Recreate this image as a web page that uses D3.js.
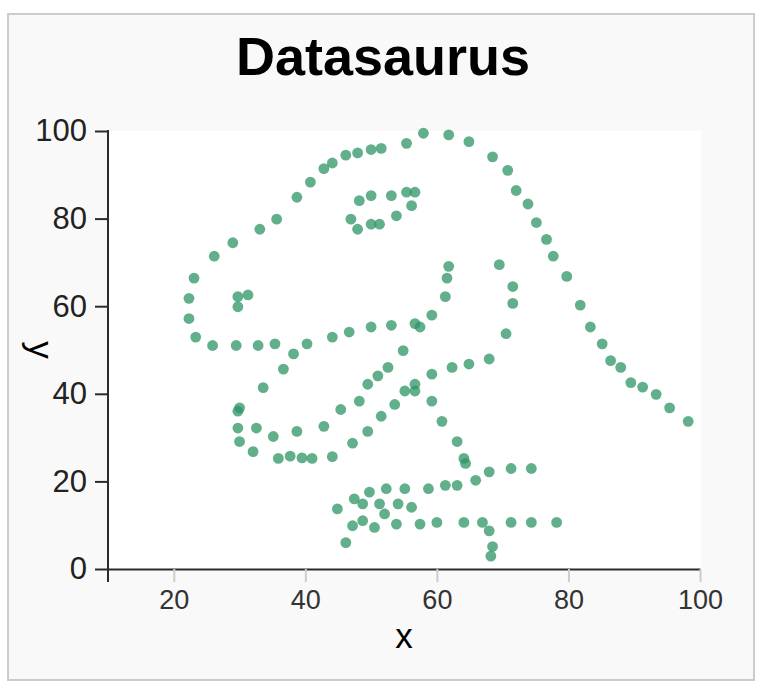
<!DOCTYPE html>
<html>
<head>
<meta charset="utf-8">
<script src="https://cdn.jsdelivr.net/npm/d3@7"></script>
<style>
  html, body { margin: 0; padding: 0; background: #ffffff; }
  svg { display: block; }
  text { font-family: "Liberation Sans", Arial, Helvetica, sans-serif; }
</style>
</head>
<body>
<svg id="chart" width="766" height="688"></svg>
<script>
const chartTitle = "Datasaurus";
const xLabel = "x";
const yLabel = "y";
const xTicks = [20, 40, 60, 80, 100];
const yTicks = [0, 20, 40, 60, 80, 100];

const xValues = [
  55.3846, 51.5385, 46.1538, 42.8205, 40.7692, 38.7179, 35.6410, 33.0769, 28.9744, 26.1538,
  23.0769, 22.3077, 22.3077, 23.3333, 25.8974, 29.4872, 32.8205, 35.3846, 40.2564, 44.1026,
  46.6667, 50.0000, 53.0769, 56.6667, 59.2308, 61.2821, 61.5385, 61.7949, 57.4359, 54.8718,
  52.5641, 48.2051, 49.4872, 51.0256, 45.3846, 42.8205, 38.7179, 35.1282, 32.5641, 30.0000,
  33.5897, 36.6667, 38.2051, 29.7436, 29.7436, 30.0000, 32.0513, 35.8974, 41.0256, 44.1026,
  47.1795, 49.4872, 51.5385, 53.5897, 55.1282, 56.6667, 59.2308, 62.3077, 64.8718, 67.9487,
  70.5128, 71.5385, 71.5385, 69.4872, 46.9231, 48.2051, 50.0000, 53.0769, 55.3846, 56.6667,
  56.1538, 53.8462, 51.2821, 50.0000, 47.9487, 29.7436, 29.7436, 31.2821, 57.9487, 61.7949,
  64.8718, 68.4615, 70.7692, 72.0513, 73.8462, 75.1282, 76.6667, 77.6923, 79.7436, 81.7949,
  83.3333, 85.1282, 86.4103, 87.9487, 89.4872, 93.3333, 95.3846, 98.2051, 56.6667, 59.2308,
  60.7692, 63.0769, 64.1026, 64.3590, 74.3590, 71.2821, 67.9487, 65.8974, 63.0769, 61.2821,
  58.7179, 55.1282, 52.3077, 49.7436, 47.4359, 44.8718, 48.7179, 51.2821, 54.1026, 56.1538,
  52.0513, 48.7179, 47.1795, 46.1538, 50.5128, 53.8462, 57.4359, 60.0000, 64.1026, 66.9231,
  71.2821, 74.3590, 78.2051, 67.9487, 68.4615, 68.2051, 37.6923, 39.4872, 91.2821, 50.0000,
  47.9487, 44.1026
];

const yValues = [
  97.1795, 96.0256, 94.4872, 91.4103, 88.3333, 84.8718, 79.8718, 77.5641, 74.4872, 71.4103,
  66.4103, 61.7949, 57.1795, 52.9487, 51.0256, 51.0256, 51.0256, 51.4103, 51.4103, 52.9487,
  54.1026, 55.2564, 55.6410, 56.0256, 57.9487, 62.1795, 66.4103, 69.1026, 55.2564, 49.8718,
  46.0256, 38.3333, 42.1795, 44.1026, 36.4103, 32.5641, 31.4103, 30.2564, 32.1795, 36.7949,
  41.4103, 45.6410, 49.1026, 36.0256, 32.1795, 29.1026, 26.7949, 25.2564, 25.2564, 25.6410,
  28.7180, 31.4103, 34.8718, 37.5641, 40.6410, 42.1795, 44.4872, 46.0256, 46.7949, 47.9487,
  53.7180, 60.6410, 64.4872, 69.4872, 79.8718, 84.1026, 85.2564, 85.2564, 86.0256, 86.0256,
  82.9487, 80.6410, 78.7180, 78.7180, 77.5641, 59.8718, 62.1795, 62.5641, 99.4872, 99.1026,
  97.5641, 94.1026, 91.0256, 86.4103, 83.3333, 79.1026, 75.2564, 71.4103, 66.7949, 60.2564,
  55.2564, 51.4103, 47.5641, 46.0256, 42.5641, 39.8718, 36.7949, 33.7180, 40.6410, 38.3333,
  33.7180, 29.1026, 25.2564, 24.1026, 22.9487, 22.9487, 22.1795, 20.2564, 19.1026, 19.1026,
  18.3333, 18.3333, 18.3333, 17.5641, 16.0256, 13.7180, 14.8718, 14.8718, 14.8718, 14.1026,
  12.5641, 11.0256, 9.8718, 6.0256, 9.4872, 10.2564, 10.2564, 10.6410, 10.6410, 10.6410,
  10.6410, 10.6410, 10.6410, 8.7180, 5.1282, 2.9487, 25.7692, 25.3846, 41.5385, 95.7692,
  95.0000, 92.6923
];

const points = xValues.map((d, i) => ({ x: d, y: yValues[i] }));

const svg = d3.select("#chart");

// outer card
svg.append("rect")
  .attr("x", 8).attr("y", 14)
  .attr("width", 746).attr("height", 666)
  .attr("fill", "#f9f9f9")
  .attr("stroke", "#cccccc")
  .attr("stroke-width", 2);

const plotLeft = 108, plotRight = 700, plotTop = 131, plotBottom = 569;
const x = d3.scaleLinear().domain([10, 100]).range([plotLeft, plotRight]);
const y = d3.scaleLinear().domain([0, 100]).range([plotBottom, plotTop]);

// plot background
svg.append("rect")
  .attr("x", x(10)).attr("y", y(100))
  .attr("width", x(100) - x(10) + 1)
  .attr("height", y(0) - y(100))
  .attr("fill", "#ffffff");

// title
svg.append("text")
  .attr("x", 383).attr("y", 75)
  .attr("text-anchor", "middle")
  .attr("font-size", 54)
  .attr("font-weight", "bold")
  .attr("fill", "#000")
  .text(chartTitle);

const tickLen = 13;

// x axis
const gx = svg.append("g")
  .attr("transform", `translate(0,${y(0)})`)
  .call(d3.axisBottom(x).tickValues(xTicks).tickSize(tickLen).tickPadding(8).tickSizeOuter(0));
gx.select(".domain").attr("stroke", "#2b2b2b").attr("stroke-width", 2);
gx.selectAll(".tick line").attr("stroke", "#cccccc").attr("stroke-width", 2);
gx.selectAll(".tick text")
  .attr("font-size", 27)
  .attr("fill", "#333333")
  .attr("font-family", "'Liberation Sans', Arial, Helvetica, sans-serif");

// y axis
const gy = svg.append("g")
  .attr("transform", `translate(${x(10)},0)`)
  .call(d3.axisLeft(y).tickValues(yTicks).tickSize(tickLen).tickPadding(8).tickSizeOuter(0));
gy.select(".domain").remove();
gy.append("line")
  .attr("x1", 0).attr("x2", 0)
  .attr("y1", y(100) - 1).attr("y2", y(0) + tickLen)
  .attr("stroke", "#2b2b2b").attr("stroke-width", 2);
gy.selectAll(".tick line").attr("stroke", "#2b2b2b").attr("stroke-width", 2);
gy.selectAll(".tick text")
  .attr("font-size", 31)
  .attr("fill", "#222222")
  .attr("font-family", "'Liberation Sans', Arial, Helvetica, sans-serif");

// axis titles
svg.append("text")
  .attr("x", (x(10) + x(100)) / 2).attr("y", 648)
  .attr("text-anchor", "middle")
  .attr("font-size", 35)
  .attr("fill", "#000")
  .text(xLabel);

svg.append("text")
  .attr("transform", `translate(29,${(y(0) + y(100)) / 2}) rotate(90)`)
  .attr("text-anchor", "middle")
  .attr("font-size", 35)
  .attr("fill", "#000")
  .text(yLabel);

// points
svg.append("g")
  .selectAll("circle")
  .data(points)
  .join("circle")
  .attr("cx", d => x(d.x))
  .attr("cy", d => y(d.y))
  .attr("r", 5.4)
  .attr("fill", "#2e9466")
  .attr("fill-opacity", 0.75);
</script>
</body>
</html>
